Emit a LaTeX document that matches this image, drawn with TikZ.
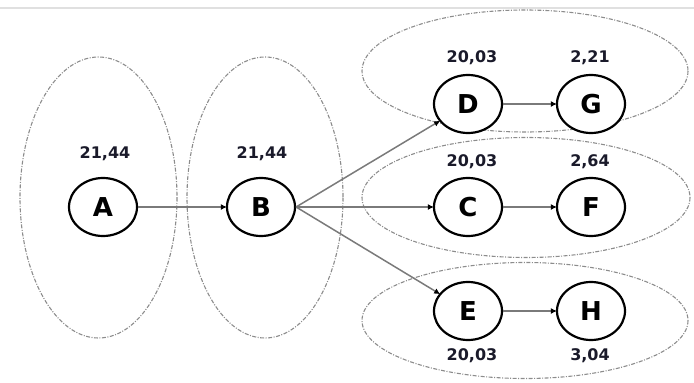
\documentclass[tikz,border=0pt]{standalone}
\usepackage{fontspec}
\setmainfont{DejaVu Sans}
\usetikzlibrary{shapes.geometric,arrows.meta}
\definecolor{grouplinecol}{HTML}{8C8C8C}
\definecolor{edgecol}{HTML}{7A7A7A}
\definecolor{valcol}{HTML}{1A1A2A}
\tikzset{
  vertex/.style={ellipse, draw=black, line width=2.2pt, fill=white,
    minimum width=68pt, minimum height=58pt, inner sep=0pt,
    font=\fontsize{26}{28}\selectfont\bfseries},
  group/.style={draw=grouplinecol, line width=1.1pt,
    dash pattern=on 4pt off 1.5pt on 1pt off 1.5pt},
  edge/.style={draw=edgecol, line width=1.5pt,
    -{Latex[length=6pt,width=6pt,color=black]}, shorten >=-1pt},
  val/.style={font=\fontsize{16}{18}\selectfont\bfseries, text=valcol}
}
\begin{document}
\begin{tikzpicture}[x=1pt,y=-1pt]
  \useasboundingbox (0,0) rectangle (694,383);
  % faint rule along the top
  \draw[color=black!12, line width=2pt] (0,8) -- (694,8);

  % dashed group outlines
  \draw[group] (98.5,197.5) ellipse [x radius=78.5, y radius=140.5];
  \draw[group] (265,197.5) ellipse [x radius=78, y radius=140.5];
  \draw[group] (525,71) ellipse [x radius=163, y radius=61];
  \draw[group] (526,197.5) ellipse [x radius=164, y radius=60];
  \draw[group] (525,320.5) ellipse [x radius=163, y radius=58];

  % vertices
  \node[vertex] (A) at (103,207) {A};
  \node[vertex] (B) at (261,207) {B};
  \node[vertex] (D) at (468,104) {D};
  \node[vertex] (G) at (591,104) {G};
  \node[vertex] (C) at (468,207) {C};
  \node[vertex] (F) at (591,207) {F};
  \node[vertex] (E) at (468,311) {E};
  \node[vertex] (H) at (591,311) {H};

  % values
  \node[val] at (105,154) {21,44};
  \node[val] at (262,154) {21,44};
  \node[val] at (472,58) {20,03};
  \node[val] at (590,58) {2,21};
  \node[val] at (472,162) {20,03};
  \node[val] at (590,162) {2,64};
  \node[val] at (472,356) {20,03};
  \node[val] at (590,356) {3,04};

  % edges
  \draw[edge] (A) -- (B);
  \draw[edge] (B.east) -- (D);
  \draw[edge] (B.east) -- (C);
  \draw[edge] (B.east) -- (E);
  \draw[edge] (D) -- (G);
  \draw[edge] (C) -- (F);
  \draw[edge] (E) -- (H);
\end{tikzpicture}
\end{document}
